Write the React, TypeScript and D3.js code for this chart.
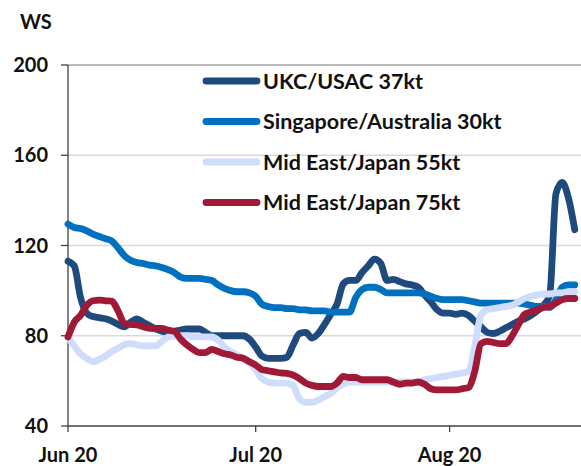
import React from 'react';
import * as d3 from 'd3';

// daily observations, 1 Jun 2020 .. 21 Aug 2020
const dates = d3.timeDay.range(new Date(2020, 5, 1), new Date(2020, 7, 22));

const ukcUsac = [
  113, 111, 97, 90, 88.5, 88, 87.5, 86.5, 85, 84,
  86, 87.5, 86, 84.5, 83, 82, 81.5, 82, 82.5, 83,
  83, 83, 81.5, 80, 80, 80, 80, 80, 80, 78.5,
  75, 71, 70, 70, 70, 70.5, 76, 81, 81.5, 79,
  81, 85, 89.5, 94, 103, 104.5, 104.5, 108, 111, 114,
  112, 104.5, 105, 104, 103, 102.5, 101.5, 98, 95, 91.5,
  90, 90, 89.5, 90, 89, 86.5, 84, 81.5, 81, 82,
  83.5, 85, 86.5, 87.5, 89, 91, 93.5, 98, 143, 148,
  141, 127,
];

const singaporeAus = [
  129.5, 128, 127.5, 126.5, 125, 124, 123, 122, 119, 115.5,
  113.5, 112.5, 112, 111.3, 111, 110.3, 109.3, 108, 106, 105.4,
  105.4, 105.4, 105, 104.5, 102.5, 101, 100, 99.5, 99.5, 99,
  97.5, 94, 93, 92.5, 92.5, 92, 92, 91.5, 91.5, 91,
  91, 91, 90.5, 90.5, 90.5, 90.5, 97, 100.5, 101.5, 101.5,
  100.5, 99, 99, 99, 99, 99, 99, 98.5, 97.5, 96.5,
  96, 96, 96, 96, 95.5, 95, 94.5, 94.5, 94.5, 94.5,
  94.5, 94.5, 94.5, 94, 93.5, 93, 93, 92.5, 96, 101.5,
  102.5, 102.5,
];

const meJapan55 = [
  79, 75.5, 72, 70, 68.5, 69.5, 71, 73, 74.5, 76,
  76.5, 76, 75.5, 75.5, 75.5, 77.5, 79.5, 80, 80, 80,
  79.5, 79.5, 79.5, 79.5, 78, 75, 73, 71.5, 70, 68,
  65, 61, 59.5, 59, 59, 59, 58, 52, 50.5, 50.5,
  51.5, 53, 54.5, 57, 58.5, 59.5, 59.5, 59.5, 59.5, 59.5,
  59.5, 59.5, 59.5, 59.5, 59.5, 59.5, 59.5, 60.5, 61, 61.5,
  62, 62.5, 63, 63.5, 64, 75, 89, 91.5, 92, 92.5,
  93, 93.5, 95, 96.5, 97.5, 98, 98.5, 98.5, 99, 99,
  99.5, 99.5,
];

const meJapan75 = [
  79.5, 86, 89, 93.5, 95.5, 95.8, 95.5, 95.3, 91, 85.5,
  85, 84.8, 84, 83.3, 83.3, 83.3, 82.5, 82, 78.5, 76,
  74, 72.5, 72.5, 74, 73, 72, 71.5, 70.5, 70, 68.5,
  67, 65, 64.5, 64, 63.5, 63.3, 62.5, 61, 59, 58,
  57.5, 57.5, 57.5, 59, 62, 61.5, 61.5, 60.5, 60.5, 60.5,
  60.5, 60.5, 59.5, 58.5, 59, 59, 59.5, 58.5, 56.5, 56,
  56, 56, 56, 56.5, 57, 64, 76.5, 77.5, 77, 76.5,
  76.5, 80, 85, 89.5, 90.5, 91.5, 92.5, 93, 94.5, 96,
  96.5, 96.5,
];

const seriesNames = ['UKC/USAC 37kt', 'Singapore/Australia 30kt', 'Mid East/Japan 55kt', 'Mid East/Japan 75kt'];
const seriesValues = [ukcUsac, singaporeAus, meJapan55, meJapan75];
const seriesColors = ['#1f4a7e', '#0071c1', '#cfddfb', '#a01a37'];

const yTicks = [40, 80, 120, 160, 200];
const xTicks = [new Date(2020, 5, 1), new Date(2020, 6, 1), new Date(2020, 7, 1)];
const xTickLabels = ['Jun 20', 'Jul 20', 'Aug 20'];

const W = 581;
const H = 466;
const FONT = 'Lato, "Open Sans", sans-serif';

const App: React.FC = () => {
  const x = d3.scaleTime()
    .domain([new Date(2020, 5, 1), new Date(2020, 7, 22)])
    .range([68, 581]);
  const y = d3.scaleLinear().domain([40, 200]).range([426, 65]);

  const line = d3.line<number>()
    .x((_, i) => x(dates[i]))
    .y(d => y(d))
    .curve(d3.curveMonotoneX);

  return (
    <div style={{ position: 'absolute', left: 0, top: 0 }}>
      <svg width={W} height={H} style={{ display: 'block', background: 'white' }}>
        {/* gridlines */}
        {yTicks.slice(1).map(t => (
          <line key={t} x1={68} x2={581} y1={y(t)} y2={y(t)}
            stroke={t === 200 ? '#a6a6a6' : '#d9d9d9'} strokeWidth={1.5} />
        ))}

        {/* y axis */}
        <line x1={68} x2={68} y1={y(200)} y2={y(40)} stroke="#404040" strokeWidth={1.3} />
        {yTicks.map(t => (
          <g key={t}>
            <line x1={61} x2={68} y1={y(t)} y2={y(t)} stroke="#404040" strokeWidth={1.3} />
            <text x={48} y={y(t)} dy="0.36em" textAnchor="end" fontFamily={FONT}
              fontWeight={700} fontSize={20} fill="#111">{t}</text>
          </g>
        ))}
        <text x={20} y={29} fontFamily={FONT} fontWeight={700} fontSize={20} fill="#111">WS</text>

        {/* x axis */}
        <line x1={68} x2={581} y1={y(40)} y2={y(40)} stroke="#404040" strokeWidth={1.3} />
        {xTicks.map((t, i) => (
          <g key={i}>
            <line x1={x(t)} x2={x(t)} y1={426} y2={432} stroke="#404040" strokeWidth={1.3} />
            <text x={x(t)} y={462} textAnchor="middle" fontFamily={FONT}
              fontWeight={700} fontSize={20} fill="#111">{xTickLabels[i]}</text>
          </g>
        ))}

        {/* series */}
        {seriesValues.map((vals, i) => (
          <path key={seriesNames[i]} d={line(vals) || ''} fill="none"
            stroke={seriesColors[i]} strokeWidth={6.8}
            strokeLinecap="round" strokeLinejoin="round" />
        ))}

        {/* legend */}
        {seriesNames.map((name, i) => {
          const ly = 81 + i * 40.5;
          return (
            <g key={name}>
              <line x1={206} x2={257} y1={ly} y2={ly} stroke={seriesColors[i]}
                strokeWidth={6.8} strokeLinecap="round" />
              <text x={263} y={ly} dy="0.36em" fontFamily={FONT} fontWeight={700}
                fontSize={21.5} fill="#111">{name}</text>
            </g>
          );
        })}
      </svg>
    </div>
  );
};

export default App;
